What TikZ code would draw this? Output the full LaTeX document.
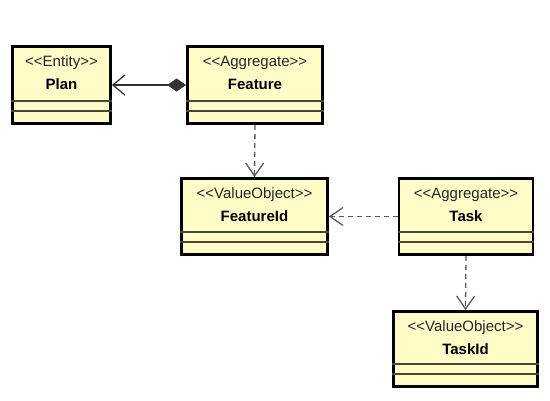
\documentclass[tikz,border=0pt]{standalone}
\usepackage{fontspec}
\setmainfont{Liberation Sans}
\usetikzlibrary{arrows.meta,calc}
\definecolor{classfill}{RGB}{255,252,200}
\definecolor{divgray}{RGB}{70,70,60}

\begin{document}
\begin{tikzpicture}[x=1pt,y=-1pt,
    classbox/.style={draw, line width=2.8pt, fill=classfill, inner sep=0pt},
    stereo/.style={font=\fontsize{15}{17}\selectfont, text=black!85, inner sep=0pt},
    cname/.style={font=\fontsize{15}{17}\selectfont\bfseries, inner sep=0pt},
    divider/.style={draw=divgray, line width=1.6pt},
    composes/.style={line width=1.3pt, draw=black!80, {Diamond[length=19pt,width=13pt]}-{Straight Barb[length=12pt,width=20pt]}},
    depends/.style={line width=1.3pt, draw=black!65, dash pattern=on 5pt off 4pt, -{Straight Barb[length=13pt,width=18pt]}}]

    \useasboundingbox (0,0) rectangle (550,400);

    % classes
    \node[classbox, minimum width=98pt, minimum height=77pt] (Plan) at (61.5,85) {};
    \node[classbox, minimum width=135pt, minimum height=77pt] (Feature) at (255,85) {};
    \node[classbox, minimum width=146pt, minimum height=76pt] (FeatureId) at (254.5,216.5) {};
    \node[classbox, minimum width=134pt, minimum height=76pt] (Task) at (466,216.5) {};
    \node[classbox, minimum width=144pt, minimum height=75pt] (TaskId) at (465.5,349) {};

    % compartments
    \foreach \c in {Plan,Feature,FeatureId,Task,TaskId} {
        \draw[divider] ($(\c.south west)+(0,-24)$) -- ($(\c.south east)+(0,-24)$);
        \draw[divider] ($(\c.south west)+(0,-14)$) -- ($(\c.south east)+(0,-14)$);
    }

    % titles
    \node[stereo] (PlanS) at ($(Plan.north)+(0,18)$) {<\kern0pt<Entity>\kern0pt>};
    \node[cname] (PlanN) at ($(Plan.north)+(0,39)$) {Plan};
    \node[stereo] (FeatureS) at ($(Feature.north)+(0,18)$) {<\kern0pt<Aggregate>\kern0pt>};
    \node[cname] (FeatureN) at ($(Feature.north)+(0,39)$) {Feature};
    \node[stereo] (FeatureIdS) at ($(FeatureId.north)+(0,18)$) {<\kern0pt<ValueObject>\kern0pt>};
    \node[cname] (FeatureIdN) at ($(FeatureId.north)+(0,39)$) {FeatureId};
    \node[stereo] (TaskS) at ($(Task.north)+(0,18)$) {<\kern0pt<Aggregate>\kern0pt>};
    \node[cname] (TaskN) at ($(Task.north)+(0,39)$) {Task};
    \node[stereo] (TaskIdS) at ($(TaskId.north)+(0,18)$) {<\kern0pt<ValueObject>\kern0pt>};
    \node[cname] (TaskIdN) at ($(TaskId.north)+(0,39)$) {TaskId};

    % relations
    \draw[composes] (Feature.west |- 0,85) -- (Plan.east |- 0,85);
    \draw[depends] (Feature.south) -- (FeatureId.north);
    \draw[depends] (Task.west) -- (FeatureId.east);
    \draw[depends] (Task.south) -- (TaskId.north);
\end{tikzpicture}
\end{document}
